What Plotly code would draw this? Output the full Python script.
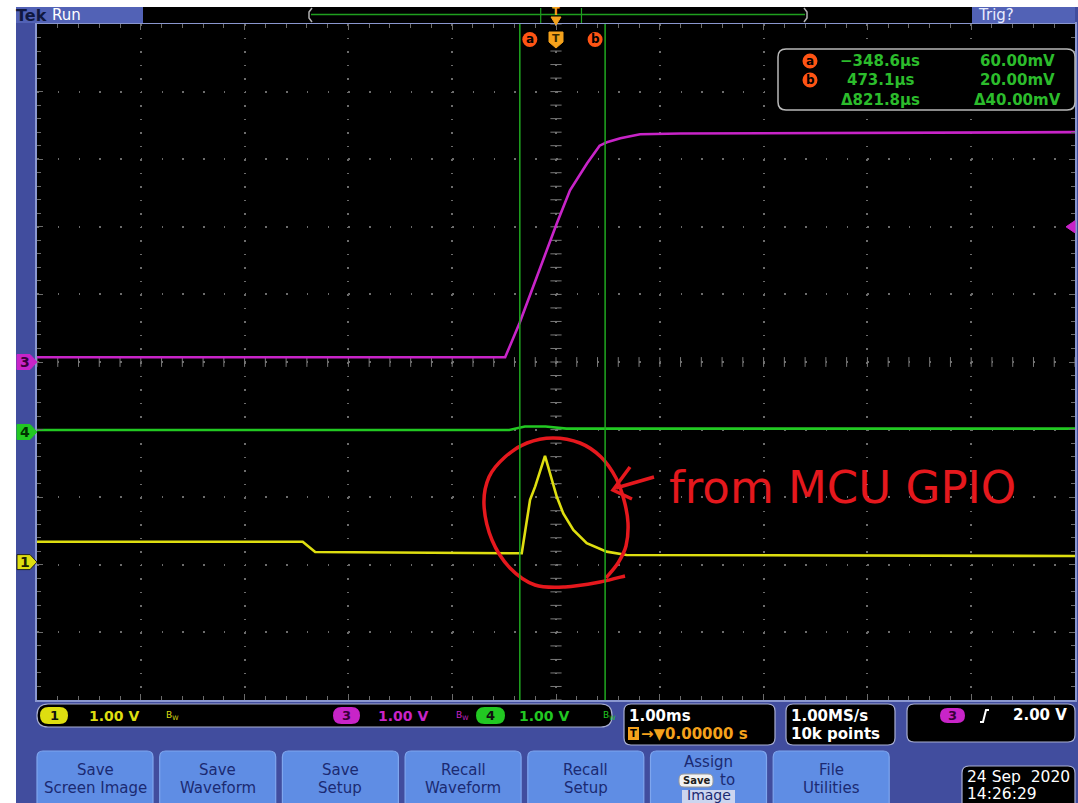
import plotly.graph_objects as go
import numpy as np

# ---------------- data ----------------
time_ch3_ms = [-5.0, -0.49, -0.35, -0.15, 0.01, 0.135, 0.30, 0.42, 0.49, 0.62, 0.81, 1.20, 5.0]
ch3_volts = [0.07, 0.07, 0.58, 1.41, 2.06, 2.54, 2.94, 3.20, 3.25, 3.31, 3.37, 3.38, 3.40]

time_ch4_ms = [-5.0, -0.45, -0.30, -0.10, 0.10, 5.0]
ch4_volts = [0.03, 0.03, 0.08, 0.08, 0.05, 0.05]

time_ch1_ms = [-5.0, -2.44, -2.32, -0.33, -0.25, -0.20, -0.106, -0.058, 0.007, 0.07, 0.167,
               0.296, 0.488, 0.681, 5.0]
ch1_volts = [0.30, 0.30, 0.15, 0.13, 0.92, 1.12, 1.57, 1.32, 0.97, 0.72, 0.475,
             0.28, 0.155, 0.105, 0.09]

channel_position_div = {1: -2.96, 3: 0.0, 4: -1.035}
volts_per_div = {1: 1.0, 3: 1.0, 4: 1.0}
cursor_a_ms = -0.3486
cursor_b_ms = 0.4731
trigger_level_v = 2.00

readout_times = ["\u2212348.6\u00b5s", "473.1\u00b5s", "\u0394821.8\u00b5s"]
readout_volts = ["60.00mV", "20.00mV", "\u039440.00mV"]
button_labels = [["Save", "Screen Image"], ["Save", "Waveform"], ["Save", "Setup"],
                 ["Recall", "Waveform"], ["Recall", "Setup"], None, ["File", "Utilities"]]

# ---------------- geometry helpers ----------------
W, H = 1078, 803
PX0, PX1, PY0, PY1 = 37, 1075, 24, 700
FONT = "DejaVu Sans"


def X(px):
    return (px - PX0) / (PX1 - PX0)


def Y(py):
    return (PY1 - py) / (PY1 - PY0)


BEZEL = "#414d9e"
TOPBLUE = "#5262b6"
BTN = "#5f8de4"
NAVY = "#1b2a72"
ORANGE = "#f5a21c"
CURSOR_OR = "#ff5414"
YEL = "#dede10"
MAG = "#c824c8"
GRN = "#22c822"
TXTGRN = "#2cbc2c"
BOXLINE = "#a9afd2"

shapes = []
annos = []


def rect(x0, y0, x1, y1, fill, line=None, lw=0):
    shapes.append(dict(type="rect", xref="paper", yref="paper", x0=X(x0), x1=X(x1),
                       y0=Y(y1), y1=Y(y0), fillcolor=fill,
                       line=dict(color=line or fill, width=lw), layer="above"))


def rrect(x0, y0, x1, y1, r, fill, line=None, lw=0):
    d = (f"M{X(x0 + r)},{Y(y0)} L{X(x1 - r)},{Y(y0)} Q{X(x1)},{Y(y0)} {X(x1)},{Y(y0 + r)} "
         f"L{X(x1)},{Y(y1 - r)} Q{X(x1)},{Y(y1)} {X(x1 - r)},{Y(y1)} L{X(x0 + r)},{Y(y1)} "
         f"Q{X(x0)},{Y(y1)} {X(x0)},{Y(y1 - r)} L{X(x0)},{Y(y0 + r)} Q{X(x0)},{Y(y0)} {X(x0 + r)},{Y(y0)} Z")
    shapes.append(dict(type="path", xref="paper", yref="paper", path=d, fillcolor=fill,
                       line=dict(color=line or fill, width=lw), layer="above"))


def polyline(pts, color, width, close=False, fill=None):
    d = "M" + " L".join(f"{X(x)},{Y(y)}" for x, y in pts) + (" Z" if close else "")
    s = dict(type="path", xref="paper", yref="paper", path=d,
             line=dict(color=color, width=width), layer="above")
    if fill:
        s["fillcolor"] = fill
    shapes.append(s)


def smooth(pts, color, width):
    p = np.array(pts, dtype=float)
    d = f"M{X(p[0][0])},{Y(p[0][1])}"
    n = len(p)
    for i in range(n - 1):
        p0 = p[i - 1] if i > 0 else p[i]
        p1, p2 = p[i], p[i + 1]
        p3 = p[i + 2] if i + 2 < n else p[i + 1]
        c1 = p1 + (p2 - p0) / 6
        c2 = p2 - (p3 - p1) / 6
        d += f" C{X(c1[0])},{Y(c1[1])} {X(c2[0])},{Y(c2[1])} {X(p2[0])},{Y(p2[1])}"
    shapes.append(dict(type="path", xref="paper", yref="paper", path=d,
                       line=dict(color=color, width=width), layer="above"))


def txt(x, y, s, color, size=15, anchor="left", bold=False, family=FONT):
    annos.append(dict(x=X(x), y=Y(y), xref="paper", yref="paper",
                      text=f"<b>{s}</b>" if bold else s, showarrow=False,
                      xanchor=anchor, yanchor="middle",
                      font=dict(family=family, size=size, color=color), borderpad=0))


# ---------------- frame ----------------
rect(0, 0, 16, H, "white")
rect(0, 0, W, 7, "white")
# top bar
rect(16, 7, 143, 23, TOPBLUE)
rect(143, 7, 972, 23, "black")
rect(972, 7, 1075, 23, TOPBLUE)
txt(15, 15, "Tek", "#101840", 16, bold=True)
txt(51, 15, "Run", "white", 15)
txt(977, 15, "Trig?", "#e8ecff", 15)
# record view in top bar
rec_c, rec_scale = 558, 0.478 * (PX1 - PX0) / 10
polyline([(312, 8), (309, 12), (309, 18), (312, 22)], "#b0b0b0", 1.5)
polyline([(804, 8), (807, 12), (807, 18), (804, 22)], "#b0b0b0", 1.5)
polyline([(311, 14.5), (805, 14.5)], "#1f9f1f", 1.5)
for c in (cursor_a_ms, cursor_b_ms):
    xr = rec_c + c * rec_scale
    polyline([(xr, 8), (xr, 23)], "#1f9f1f", 1.2)
txt(556, 12, "T", ORANGE, 11, anchor="center", bold=True)
polyline([(551, 17), (561, 17), (556, 25)], ORANGE, 1, close=True, fill=ORANGE)

# ---------------- plot-top markers ----------------
for ms, lab in ((cursor_a_ms, "a"), (cursor_b_ms, "b")):
    cx = 556 + ms * (PX1 - PX0) / 10 + (10 if lab == "a" else -10)
    shapes.append(dict(type="circle", xref="paper", yref="paper", x0=X(cx - 7.5), x1=X(cx + 7.5),
                       y0=Y(47), y1=Y(32), fillcolor=CURSOR_OR, line=dict(width=0), layer="above"))
    txt(cx, 39.5, lab, "black", 12, anchor="center", bold=True)
polyline([(549, 32), (563, 32), (563, 42), (556, 48), (549, 42)], ORANGE, 1, close=True, fill=ORANGE)
txt(556, 39, "T", "#3a2a00", 11, anchor="center", bold=True)

# ---------------- readout box ----------------
rrect(778, 49, 1075, 110, 8, "black", "#b8b8b8", 1.5)
rows = [61, 80, 100]
for i, lab in enumerate(["a", "b"]):
    shapes.append(dict(type="circle", xref="paper", yref="paper", x0=X(802.5), x1=X(817.5),
                       y0=Y(rows[i] + 7.5), y1=Y(rows[i] - 7.5), fillcolor=CURSOR_OR,
                       line=dict(width=0), layer="above"))
    txt(810, rows[i], lab, "black", 12, anchor="center", bold=True)
for i in range(3):
    txt(880, rows[i], readout_times[i], TXTGRN, 15, anchor="center", bold=True)
    txt(1017, rows[i], readout_volts[i], TXTGRN, 15, anchor="center", bold=True)

# ---------------- channel markers ----------------
ppd = (PY1 - PY0) / 10
hdiv = 7.5 / ppd
for ch, col, tcol in ((3, MAG, "#3a003a"), (4, GRN, "#003000"), (1, YEL, "#202000")):
    pos = channel_position_div[ch]
    d = (f"M{X(17)},{pos + hdiv} L{X(30)},{pos + hdiv} L{X(37)},{pos} "
         f"L{X(30)},{pos - hdiv} L{X(17)},{pos - hdiv} Z")
    shapes.append(dict(type="path", xref="paper", yref="y", path=d, fillcolor=col,
                       line=dict(color="#202020" if ch == 1 else col, width=1), layer="above"))
    annos.append(dict(x=X(24.5), y=pos, xref="paper", yref="y", text=f"<b>{ch}</b>",
                      showarrow=False, xanchor="center", yanchor="middle",
                      font=dict(family=FONT, size=14, color=tcol)))
# trigger level marker (right)
tl = channel_position_div[3] + trigger_level_v / volts_per_div[3]
shapes.append(dict(type="path", xref="paper", yref="y",
                   path=f"M{X(1075)},{tl + 0.09} L{X(1066)},{tl} L{X(1075)},{tl - 0.09} Z",
                   fillcolor=MAG, line=dict(color=MAG, width=1), layer="above"))

# ---------------- status row ----------------
rrect(37, 704, 612, 727, 11, "black", BOXLINE, 1.2)
for cx0, cx1, col, ch, tx, bwx in ((40, 68, YEL, "1", 88, 165), (333, 360, MAG, "3", 377, 455),
                                    (476, 505, GRN, "4", 518, 602)):
    rrect(cx0, 707, cx1, 724, 8.5, col)
    txt((cx0 + cx1) / 2, 715.5, ch, "#101010" if ch != "3" else "#3a003a", 13, anchor="center", bold=True)
    txt(tx, 715.5, "1.00 V", col, 14, bold=True)
    txt(bwx, 715, "B<sub>W</sub>", col, 9)
rrect(624, 704, 775, 745, 7, "black", BOXLINE, 1.2)
txt(628, 716, "1.00ms", "white", 15, bold=True)
rect(628, 727, 639, 740, ORANGE)
txt(633.5, 733.5, "T", "black", 10, anchor="center", bold=True)
txt(640, 734, "\u2192\u25bc0.00000 s", ORANGE, 15, bold=True)
rrect(786, 704, 895, 745, 7, "black", BOXLINE, 1.2)
txt(790, 716, "1.00MS/s", "white", 15, bold=True)
txt(790, 734, "10k points", "white", 15, bold=True)
rrect(907, 704, 1075, 742, 7, "black", BOXLINE, 1.2)
rrect(940, 708, 965, 723, 7.5, MAG)
txt(952.5, 715.5, "3", "#3a003a", 13, anchor="center", bold=True)
polyline([(980, 722), (983, 722), (986, 710), (989, 710)], "white", 2)
txt(1068, 715, "2.00 V", "white", 15, anchor="right", bold=True)

# ---------------- buttons ----------------
for i, lab in enumerate(button_labels):
    x0 = 37 + i * 122.7
    rrect(x0, 751, x0 + 116, 812, 6, BTN, "#7fa6ee", 1.2)
    cx = x0 + 58
    if lab is not None:
        txt(cx, 770, lab[0], NAVY, 15, anchor="center")
        txt(cx, 788, lab[1], NAVY, 15, anchor="center")
    else:
        txt(cx, 762, "Assign", NAVY, 15, anchor="center")
        rrect(679, 774, 713, 787, 5, "#f2f2f2", "#9a9a9a", 1)
        txt(696, 780.5, "Save", "#202020", 10, anchor="center", bold=True)
        txt(719, 780, "to", NAVY, 15)
        rect(682, 790, 735, 803, "#ccd5ef")
        txt(708.5, 795, "Image", NAVY, 14, anchor="center")
rrect(962, 766, 1075, 812, 7, "black", BOXLINE, 1.2)
txt(966, 777, "24 Sep  2020", "white", 15.5)
txt(966, 794, "14:26:29", "white", 15.5)

# ---------------- red handwritten annotation ----------------
RED = "#e5181d"
circle_pts = [(625, 576), (600, 582), (565, 587), (535, 585), (510, 568), (492, 540), (484, 505),
              (489, 477), (505, 457), (527, 443), (553, 438), (580, 443), (601, 457), (616, 478),
              (624, 500), (628, 523), (626, 546), (618, 563), (606, 578)]
smooth(circle_pts, RED, 3.5)
polyline([(630, 467), (613, 490), (632, 499)], RED, 3.5)
polyline([(616, 488), (654, 477)], RED, 3.5)
txt(668, 487, "from MCU GPIO", RED, 45)

# ---------------- traces ----------------
fig = go.Figure()


def screen(ch, vals):
    return [v / volts_per_div[ch] + channel_position_div[ch] for v in vals]


# graticule centre ladders
lad = np.round(np.arange(-5, 5.001, 0.2), 3)
fig.add_trace(go.Scatter(x=[0] * len(lad), y=lad, mode="markers", hoverinfo="skip",
                         marker=dict(symbol="line-ew", size=8, line=dict(color="#7a7a7a", width=1))))
fig.add_trace(go.Scatter(x=lad, y=[0] * len(lad), mode="markers", hoverinfo="skip",
                         marker=dict(symbol="line-ns", size=7, line=dict(color="#7a7a7a", width=1))))

fig.add_trace(go.Scatter(x=time_ch1_ms, y=screen(1, ch1_volts), mode="lines",
                         line=dict(color=YEL, width=2.6), hoverinfo="skip"))
fig.add_trace(go.Scatter(x=time_ch4_ms, y=screen(4, ch4_volts), mode="lines",
                         line=dict(color=GRN, width=2.6), hoverinfo="skip"))
fig.add_trace(go.Scatter(x=time_ch3_ms, y=screen(3, ch3_volts), mode="lines",
                         line=dict(color=MAG, width=2.6), hoverinfo="skip"))

for c in (cursor_a_ms, cursor_b_ms):
    shapes.append(dict(type="line", xref="x", yref="paper", x0=c, x1=c, y0=0, y1=1,
                       line=dict(color="#20a820", width=1.5), layer="above"))

grid = "#6c6c6c"
axis_common = dict(showticklabels=False, zeroline=False, showline=True, linecolor="#8a97cf",
                   linewidth=1.5, mirror="ticks", ticks="inside", ticklen=6, tickcolor=grid,
                   showgrid=True, gridcolor=grid, gridwidth=1.5, tick0=0, dtick=1,
                   minor=dict(dtick=0.2, ticks="inside", ticklen=4, tickcolor=grid, showgrid=False),
                   fixedrange=True)
fig.update_layout(
    width=W, height=H, showlegend=False,
    margin=dict(l=PX0, r=W - PX1, t=PY0, b=H - PY1, pad=0, autoexpand=False),
    paper_bgcolor=BEZEL, plot_bgcolor="black",
    xaxis=dict(range=[-5, 5], griddash="1.5px,12.02px", **axis_common),
    yaxis=dict(range=[-5, 5], griddash="1.5px,19.26px", **axis_common),
    shapes=shapes, annotations=annos,
)

fig.write_html("out.html", config={"displayModeBar": False},
               post_script="document.body.style.margin='0';document.body.style.overflow='hidden';")
